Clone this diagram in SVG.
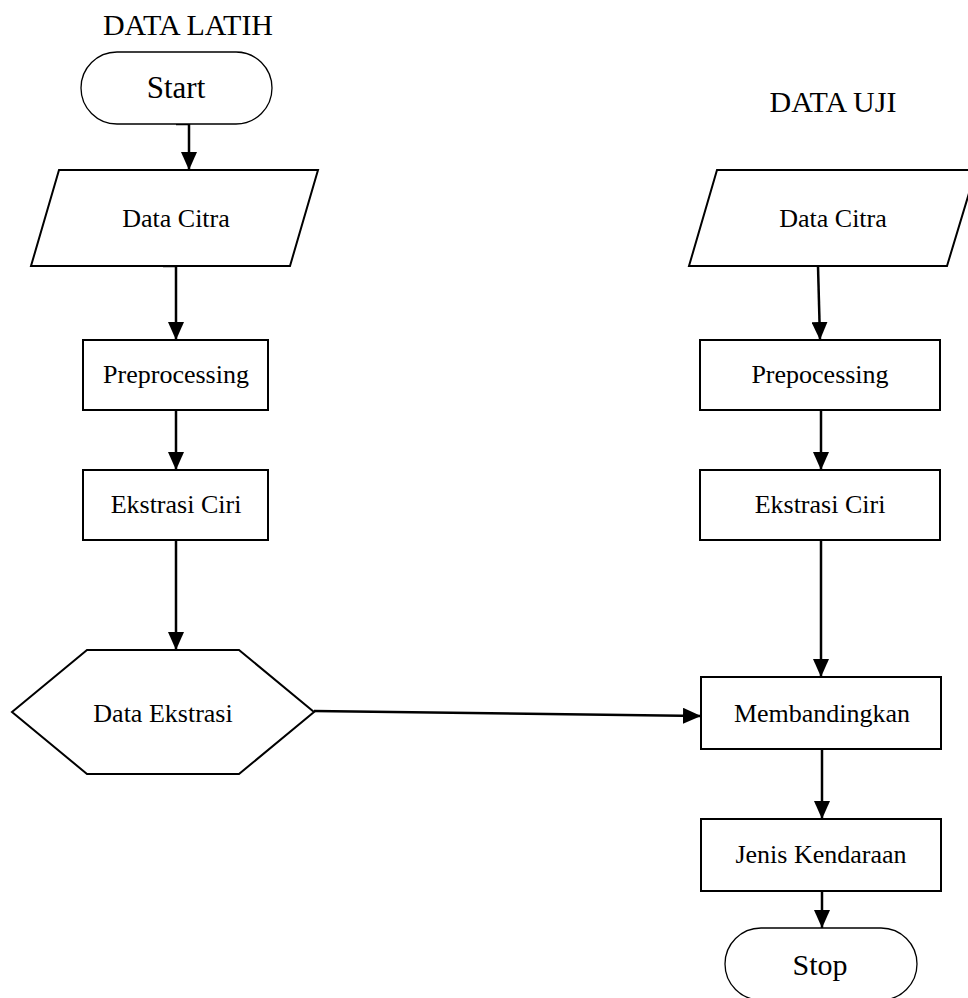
<svg xmlns="http://www.w3.org/2000/svg" width="968" height="998" viewBox="0 0 968 998">
<style>
  .box { fill: #fff; stroke: #000; stroke-width: 2; }
  .term { fill: #fff; stroke: #000; stroke-width: 1.3; }
  .lbl { font-family: "Liberation Serif", "Times New Roman", serif; font-size: 26px; fill: #000; text-anchor: middle; }
  .big { font-family: "Liberation Serif", "Times New Roman", serif; font-size: 30px; fill: #000; text-anchor: middle; }
  .conn { fill: none; stroke: #000; stroke-width: 2.5; }
  .stub { fill: none; stroke: #000; stroke-width: 2.5; }
</style>
<defs>
  <marker id="ah" markerUnits="userSpaceOnUse" markerWidth="18" markerHeight="16" refX="18" refY="8" orient="auto">
    <path d="M0,0 L18,8 L0,16 z" fill="#000"/>
  </marker>
</defs>
<rect width="968" height="998" fill="#fff"/>

<text class="big" x="188" y="35">DATA LATIH</text>
<text class="big" x="833" y="112">DATA UJI</text>

<g id="connectors">
  <path class="stub" d="M176,124 H189"/>
  <path class="conn" d="M189,124 V170" marker-end="url(#ah)"/>
  <path class="stub" d="M163,266 H176"/>
  <path class="conn" d="M176,266 V340" marker-end="url(#ah)"/>
  <path class="conn" d="M176,410 V470" marker-end="url(#ah)"/>
  <path class="conn" d="M176,540 V650" marker-end="url(#ah)"/>
  <path class="conn" d="M314,711 L701,716" marker-end="url(#ah)"/>
  <path class="conn" d="M818,266 L820,340" marker-end="url(#ah)"/>
  <path class="conn" d="M821,410 V470" marker-end="url(#ah)"/>
  <path class="conn" d="M821,540 V677" marker-end="url(#ah)"/>
  <path class="conn" d="M822,749 V819" marker-end="url(#ah)"/>
  <path class="conn" d="M822,891 V928" marker-end="url(#ah)"/>
</g>

<g id="start">
  <rect class="term" x="81" y="52" width="191" height="72" rx="36" ry="36"/>
  <text class="big" x="176" y="98" style="font-size:31px">Start</text>
</g>
<g id="data-citra-latih">
  <polygon class="box" points="59,170 318,170 290,266 31,266"/>
  <text class="lbl" x="176" y="227">Data Citra</text>
</g>
<g id="preprocessing-latih">
  <rect class="box" x="83" y="340" width="185" height="70"/>
  <text class="lbl" x="176" y="383">Preprocessing</text>
</g>
<g id="ekstrasi-latih">
  <rect class="box" x="83" y="470" width="185" height="70"/>
  <text class="lbl" x="176" y="513">Ekstrasi Ciri</text>
</g>
<g id="data-ekstrasi">
  <polygon class="box" points="12,712 87,650 239,650 314,712 239,774 87,774"/>
  <text class="lbl" x="163" y="722">Data Ekstrasi</text>
</g>

<g id="data-citra-uji">
  <polygon class="box" points="717,170 976,170 947,266 689,266"/>
  <text class="lbl" x="833" y="227">Data Citra</text>
</g>
<g id="prepocessing-uji">
  <rect class="box" x="700" y="340" width="240" height="70"/>
  <text class="lbl" x="820" y="383">Prepocessing</text>
</g>
<g id="ekstrasi-uji">
  <rect class="box" x="700" y="470" width="240" height="70"/>
  <text class="lbl" x="820" y="513">Ekstrasi Ciri</text>
</g>
<g id="membandingkan">
  <rect class="box" x="701" y="677" width="240" height="72"/>
  <text class="lbl" x="822" y="722">Membandingkan</text>
</g>
<g id="jenis-kendaraan">
  <rect class="box" x="701" y="819" width="240" height="72"/>
  <text class="lbl" x="821" y="863">Jenis Kendaraan</text>
</g>
<g id="stop">
  <rect class="term" x="725" y="928" width="192" height="72" rx="36" ry="36"/>
  <text class="big" x="820" y="975">Stop</text>
</g>
</svg>
